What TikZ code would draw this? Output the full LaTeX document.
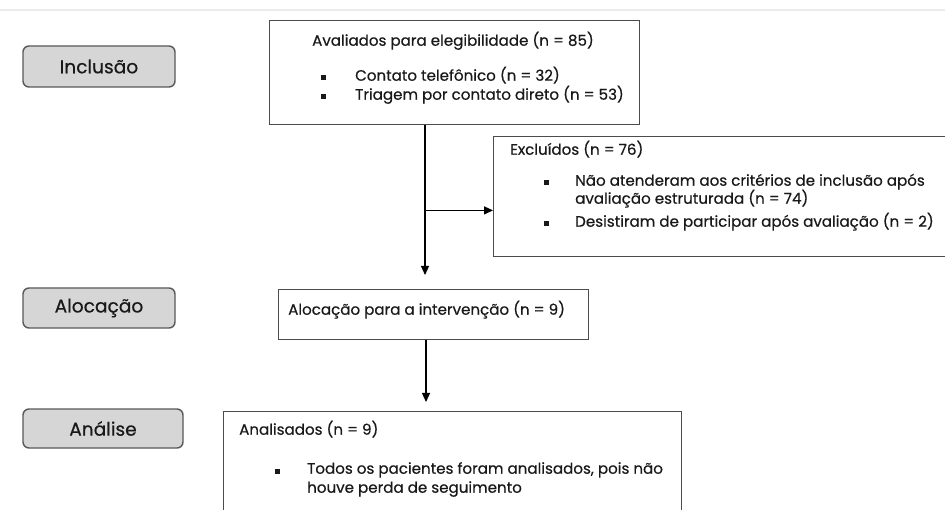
\documentclass[tikz,border=0pt]{standalone}
\usepackage{fontspec}
\setmainfont{Poppins}[FakeBold=0.5]
\usetikzlibrary{arrows.meta,calc}
\begin{document}
\begin{tikzpicture}[x=1pt,y=-1pt,
  lbl/.style={draw=black!65,line width=1.4pt,fill=black!16,rounded corners=6pt,inner sep=0pt,text=black!90,font=\fontsize{18.6}{21}\selectfont},
  box/.style={draw=black!70,line width=1.4pt,inner sep=0pt,anchor=north west},
  txt/.style={font=\fontsize{15.1}{18}\selectfont,text=black!90,inner sep=0pt},
  bul/.style={fill=black!90,minimum size=5pt,inner sep=0pt},
  arr/.style={line width=1.2pt,-{Triangle[length=9pt,width=8pt]}}]
\useasboundingbox (0,0) rectangle (945,510);
\clip (0,0) rectangle (945,510);
\fill[white] (0,0) rectangle (945,510);
\draw[black!8,line width=2pt] (0,10) -- (945,10);
% stage labels
\node[lbl,minimum width=152pt,minimum height=41pt] (inc) at (99,66.5) {Inclusão};
\node[lbl,minimum width=152pt,minimum height=40pt] (alo) at (99,308) {Alocação};
\node[lbl,minimum width=160pt,minimum height=39pt] (ana) at (103,428.5) {Análise};
% boxes
\node[box,minimum width=370pt,minimum height=104pt] (b1) at (269,20) {};
\node[box,minimum width=470pt,minimum height=120pt] (b2) at (493,136) {};
\node[box,minimum width=310pt,minimum height=50pt] (b3) at (278,289) {};
\node[box,minimum width=458pt,minimum height=130pt] (b4) at (223,411) {};
% texts box 1
\node[txt,anchor=mid] (t1) at (453,43) {Avaliados para elegibilidade (n = 85)};
\node[bul] (p1) at (323,78) {};
\node[txt,anchor=mid west] (t1a) at (355,78) {Contato telefônico (n = 32)};
\node[bul] (p2) at (323,97) {};
\node[txt,anchor=mid west] (t1b) at (355,97) {Triagem por contato direto (n = 53)};
% texts box 2
\node[txt,anchor=mid west] (t2) at (510,152) {Excluídos (n = 76)};
\node[bul] (p3) at (546,183) {};
\node[txt,anchor=mid west] (t2a) at (575,183) {Não atenderam aos critérios de inclusão após};
\node[txt,anchor=mid west] (t2b) at (575,201) {avaliação estruturada (n = 74)};
\node[bul] (p4) at (546,224) {};
\node[txt,anchor=mid west] (t2c) at (575,224) {Desistiram de participar após avaliação (n = 2)};
% texts box 3
\node[txt,anchor=mid west] (t3) at (288,312) {Alocação para a intervenção (n = 9)};
% texts box 4
\node[txt,anchor=mid west] (t4) at (239,432) {Analisados (n = 9)};
\node[bul] (p5) at (277,471) {};
\node[txt,anchor=mid west] (t4a) at (307,471) {Todos os pacientes foram analisados, pois não};
\node[txt,anchor=mid west] (t4b) at (307,490) {houve perda de seguimento};
% connectors
\coordinate (s1) at ($(b1.south west)+(156,0)$);
\coordinate (j1) at ($(s1)+(0,85)$);
\draw[arr,shorten >=14pt] (s1) -- (s1 |- b3.north);
\draw[arr] (j1) -- (j1 -| b2.west);
\coordinate (s3) at ($(b3.south west)+(148,0)$);
\draw[arr,shorten >=9pt] (s3) -- (s3 |- b4.north);
\end{tikzpicture}
\end{document}
